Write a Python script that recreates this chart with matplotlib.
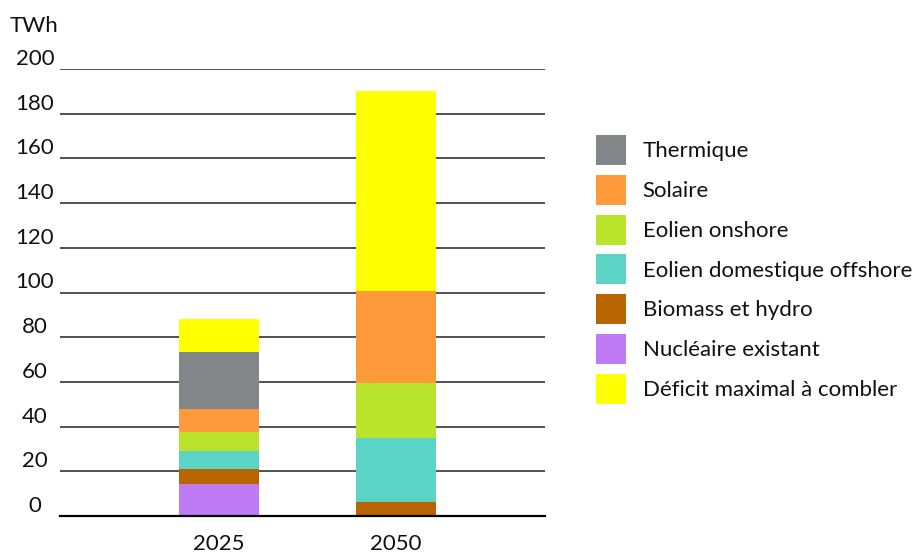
import matplotlib
matplotlib.use("Agg")
import matplotlib.pyplot as plt
from matplotlib.patches import Patch

plt.rcParams['font.family'] = ['Lato', 'DejaVu Sans']

# Data (TWh)
years = ['2025', '2050']
nucleaire = [14.3, 0.0]
biomass = [6.7, 6.3]
offshore = [8.1, 28.6]
onshore = [8.5, 24.6]
solaire = [10.3, 41.2]
thermique = [25.5, 0.0]
deficit = [14.7, 89.3]

yticks = [0, 20, 40, 60, 80, 100, 120, 140, 160, 180, 200]

# stacked bottom -> top
series = [
    ('Nucléaire existant', nucleaire, '#bf7af6'),
    ('Biomass et hydro', biomass, '#b86400'),
    ('Eolien domestique offshore', offshore, '#5bd3c5'),
    ('Eolien onshore', onshore, '#bae32c'),
    ('Solaire', solaire, '#ff9a3c'),
    ('Thermique', thermique, '#838688'),
    ('Déficit maximal à combler', deficit, '#ffff00'),
]
legend_order = ['Thermique', 'Solaire', 'Eolien onshore', 'Eolien domestique offshore',
                'Biomass et hydro', 'Nucléaire existant', 'Déficit maximal à combler']

W, H = 921, 553
fig = plt.figure(figsize=(W / 100, H / 100), dpi=100)
ax = fig.add_axes([60 / W, 1 - 516 / H, 485 / W, 447 / H])

x = list(range(len(years)))
bottom = [0.0] * len(years)
colors = {}
for name, vals, col in series:
    ax.bar(x, vals, bottom=bottom, width=0.452, color=col, zorder=3, linewidth=0)
    bottom = [b + v for b, v in zip(bottom, vals)]
    colors[name] = col

ax.set_xlim(-0.898, 1.842)
ax.set_ylim(0, 200)

# horizontal gridlines
for t in yticks[1:]:
    ax.axhline(t, color='#222222', lw=1.1, zorder=1)

for s in ['top', 'right', 'left']:
    ax.spines[s].set_visible(False)
ax.spines['bottom'].set_color('black')
ax.spines['bottom'].set_linewidth(1.6)
ax.spines['bottom'].set_zorder(4)

ax.set_yticks(yticks)
ax.set_yticklabels([str(t) for t in yticks])
for lab in ax.get_yticklabels():
    lab.set_horizontalalignment('center')
    lab.set_verticalalignment('bottom')
ax.tick_params(axis='y', length=0, pad=18, labelsize=16, colors='#111111')

ax.set_xticks(x)
ax.set_xticklabels(years)
ax.tick_params(axis='x', length=0, pad=13, labelsize=16, colors='#111111')

fig.text(10 / W, 1 - 32 / H, 'TWh', fontsize=16, color='#111111', va='baseline', ha='left')

handles = [Patch(facecolor=colors[n], edgecolor='none', label=n) for n in legend_order]
fig.legend(handles=handles, loc='upper left', bbox_to_anchor=(596 / W, 1 - 135 / H),
           bbox_transform=fig.transFigure, frameon=False, fontsize=16,
           handlelength=1.35, handleheight=1.7, handletextpad=0.75,
           labelspacing=0.44, borderpad=0, borderaxespad=0, labelcolor='#111111')

fig.savefig('out.png', dpi=100)
